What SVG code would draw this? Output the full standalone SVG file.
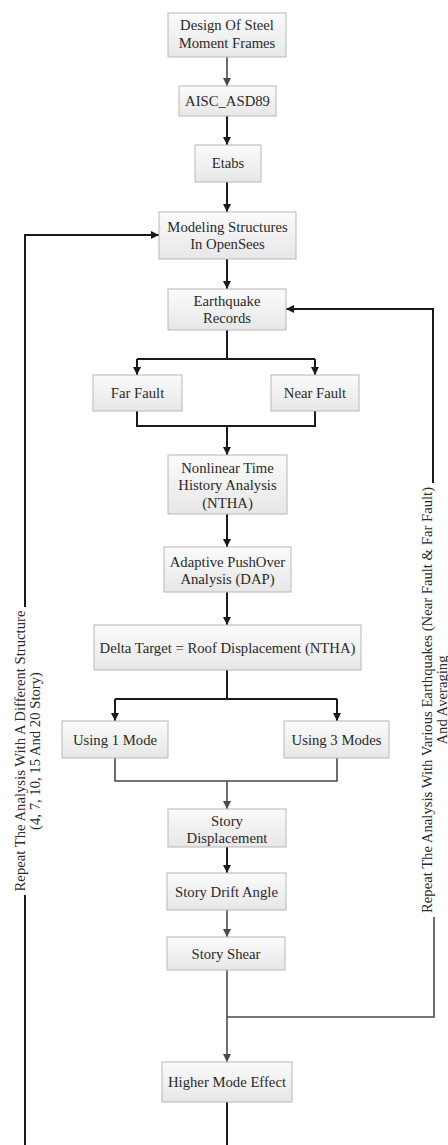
<svg xmlns="http://www.w3.org/2000/svg" width="448" height="1145" viewBox="0 0 448 1145">
<defs>
<linearGradient id="boxg" x1="0" y1="0" x2="0" y2="1">
<stop offset="0" stop-color="#fbfbfb"/>
<stop offset="1" stop-color="#e7e7e7"/>
</linearGradient>
<marker id="ah" markerUnits="userSpaceOnUse" markerWidth="9" markerHeight="8" refX="8" refY="4" orient="auto">
<path d="M0,0 L8,4 L0,8 z" fill="#1a1a1a"/>
</marker>
<marker id="ahg" markerUnits="userSpaceOnUse" markerWidth="9" markerHeight="8" refX="8" refY="4" orient="auto">
<path d="M0,0 L8,4 L0,8 z" fill="#4a4a4a"/>
</marker>
</defs>
<style>
rect.b{fill:url(#boxg);stroke:#b8b8b8;stroke-width:1}
text{font-family:"Liberation Serif","Times New Roman",serif;font-size:14.7px;fill:#2a2a2a;text-anchor:middle}
.k{fill:none;stroke:#1a1a1a;stroke-width:2}
.g{fill:none;stroke:#4a4a4a;stroke-width:1.6}
.ka{marker-end:url(#ah)}
.ga{marker-end:url(#ahg)}
</style>
<rect width="448" height="1145" fill="#ffffff"/>
<g id="connectors">
<path class="g ga" d="M227,57 V86"/>
<path class="k ka" d="M227,116 V145"/>
<path class="k ka" d="M227,182 V212"/>
<path class="k ka" d="M227,259 V289"/>
<path class="k" d="M227,330 V359 M137,359 H315"/>
<path class="k ka" d="M137,359 V375"/>
<path class="k ka" d="M315,359 V375"/>
<path class="k" d="M137,411 V426 H315 V411"/>
<path class="k ka" d="M227,426 V455"/>
<path class="k ka" d="M227,514 V547"/>
<path class="k ka" d="M227,592 V625"/>
<path class="k" d="M227,670 V699 M115,699 H337"/>
<path class="k ka" d="M115,699 V721"/>
<path class="k ka" d="M337,699 V721"/>
<path class="g" d="M115,758 V781 H337 V758"/>
<path class="g ga" d="M227,781 V809"/>
<path class="k ka" d="M227,847 V873"/>
<path class="g ga" d="M227,910 V937"/>
<path class="g ga" d="M227,970 V1062"/>
<path class="g" d="M227,1017 H434 V917"/>
<path class="k ka" d="M433,483 V309 H286"/>
<path class="k" d="M227,1102 V1145"/>
<path class="k" d="M25,1145 V895"/>
<path class="k ka" d="M25,607 V235 H159"/>
</g>
<g id="n1"><rect class="b" x="168" y="13" width="118" height="44"/><text x="227" y="30">Design Of Steel</text><text x="227" y="48">Moment Frames</text></g>
<g id="n2"><rect class="b" x="179" y="86" width="97" height="30"/><text x="227.5" y="106">AISC_ASD89</text></g>
<g id="n3"><rect class="b" x="195" y="145" width="66" height="37"/><text x="228" y="168">Etabs</text></g>
<g id="n4"><rect class="b" x="159" y="212" width="137" height="47"/><text x="227.5" y="232">Modeling Structures</text><text x="227.5" y="249">In OpenSees</text></g>
<g id="n5"><rect class="b" x="168" y="289" width="118" height="41"/><text x="227" y="306">Earthquake</text><text x="227" y="323">Records</text></g>
<g id="n6"><rect class="b" x="93" y="375" width="89" height="36"/><text x="137.5" y="398">Far Fault</text></g>
<g id="n7"><rect class="b" x="271" y="375" width="88" height="36"/><text x="315" y="398">Near Fault</text></g>
<g id="n8"><rect class="b" x="168" y="455" width="119" height="59"/><text x="227.5" y="473">Nonlinear Time</text><text x="227.5" y="490">History Analysis</text><text x="227.5" y="508">(NTHA)</text></g>
<g id="n9"><rect class="b" x="164" y="547" width="127" height="45"/><text x="227.5" y="567">Adaptive PushOver</text><text x="227.5" y="584">Analysis (DAP)</text></g>
<g id="n10"><rect class="b" x="94" y="625" width="267" height="45"/><text x="227.5" y="653">Delta Target = Roof Displacement (NTHA)</text></g>
<g id="n11"><rect class="b" x="62" y="721" width="106" height="37"/><text x="115" y="745">Using 1 Mode</text></g>
<g id="n12"><rect class="b" x="284" y="721" width="105" height="37"/><text x="336.5" y="745">Using 3 Modes</text></g>
<g id="n13"><rect class="b" x="168" y="809" width="118" height="38"/><text x="227" y="826">Story</text><text x="227" y="843">Displacement</text></g>
<g id="n14"><rect class="b" x="167" y="873" width="119" height="37"/><text x="226.5" y="897">Story Drift Angle</text></g>
<g id="n15"><rect class="b" x="167" y="937" width="118" height="33"/><text x="226" y="959">Story Shear</text></g>
<g id="n16"><rect class="b" x="162" y="1062" width="130" height="40"/><text x="227" y="1087">Higher Mode Effect</text></g>
<g id="label-left" transform="translate(25,751) rotate(-90)">
<text x="0" y="0">Repeat The Analysis With A Different Structure</text>
<text x="0" y="14.5">(4, 7, 10, 15 And 20 Story)</text>
</g>
<g id="label-right" transform="translate(432,700) rotate(-90)">
<text x="0" y="0">Repeat The Analysis With Various Earthquakes (Near Fault &amp; Far Fault)</text>
<text x="0" y="14.5">And Averaging</text>
</g>
</svg>
